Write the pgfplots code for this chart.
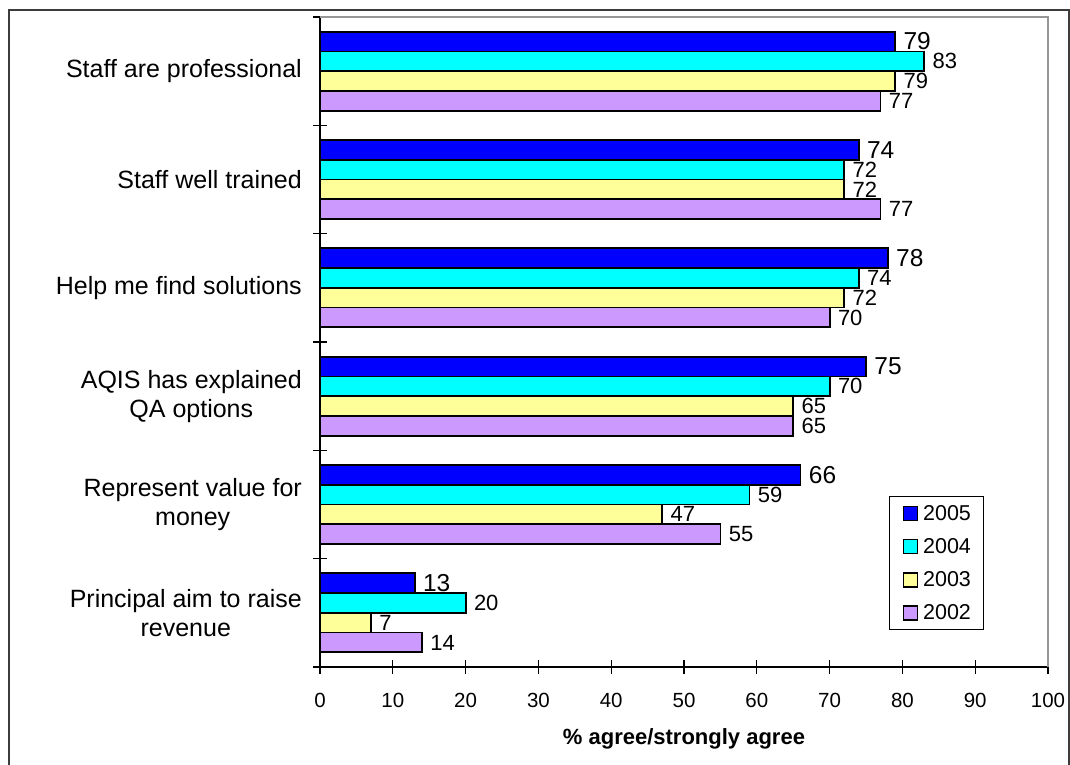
\documentclass[border=0pt]{standalone}
\usepackage{fontspec}
\setmainfont{Liberation Sans}
\usepackage{pgfplots}
\pgfplotsset{compat=1.18}
\usepackage{pgfplotstable}

\definecolor{c2005}{RGB}{0,0,255}
\definecolor{c2004}{RGB}{0,255,255}
\definecolor{c2003}{RGB}{255,255,153}
\definecolor{c2002}{RGB}{204,153,255}
\definecolor{framegray}{RGB}{60,60,60}
\definecolor{boxgray}{RGB}{150,150,150}

% share agreeing / strongly agreeing, by statement (pos 5 = top row)
\pgfplotstableread{
pos y2005 y2004 y2003 y2002
5   79    83    79    77
4   74    72    72    77
3   78    74    72    70
2   75    70    65    65
1   66    59    47    55
0   13    20    7     14
}\survey

\begin{document}
\begin{tikzpicture}
\useasboundingbox (0bp,0bp) rectangle (1070bp,765bp);
\begin{axis}[
  at={(320bp,98bp)}, anchor=south west,
  width=728bp, height=650bp, scale only axis,
  xbar, bar width=19.75bp,
  xmin=0, xmax=100, ymin=-0.5, ymax=5.5,
  xtick={0,10,...,100},
  ytick={-0.5,0.5,...,5.5},
  y tick label as interval,
  yticklabels={{Principal aim to raise\\revenue},{Represent value for\\money},{AQIS has explained\\QA options},{Help me find solutions},{Staff well trained},{Staff are professional}},
  yticklabel style={align=center, font=\fontsize{25bp}{29bp}\selectfont, inner sep=0pt, xshift=-11bp},
  xticklabel style={font=\fontsize{20.5bp}{24bp}\selectfont, inner sep=0pt, anchor=north, yshift=-18.7bp},
  /pgf/number format/assume math mode=true,
  axis lines=left, axis line style={-, line width=1.3bp, black},
  tick align=center, major tick length=14bp,
  tick style={black, line width=1.2bp},
  minor tick num=0,
  clip=false,
  xlabel={\% agree/strongly agree},
  xlabel style={font=\fontsize{22bp}{26bp}\selectfont\bfseries, at={(axis description cs:0.5,0)}, anchor=base, yshift=-78bp},
  every axis plot/.append style={draw=black, line width=1.8bp},
  nodes near coords, point meta=x,
  every node near coord/.append style={anchor=west, inner sep=0pt, xshift=7.5bp, font=\fontsize{22bp}{25bp}\selectfont, text=black},
  legend image code/.code={\draw[#1, line width=1.6bp] (0bp,-7bp) rectangle (14bp,7bp);},
  legend cell align=left,
  legend style={at={(0.7816,0.263)}, anchor=north west, draw=black, line width=1bp,
    inner xsep=13bp, inner ysep=8.5bp, nodes={inner sep=0pt}, row sep=16.8bp, column sep=5bp,
    font=\fontsize{21.5bp}{24bp}\selectfont},
]
\addplot[fill=c2005, bar shift=29.625bp,
  every node near coord/.append style={font=\fontsize{24.5bp}{27bp}\selectfont}]
  table[x=y2005, y=pos] {\survey};
\addlegendentry{2005}
\addplot[fill=c2004, bar shift=9.875bp] table[x=y2004, y=pos] {\survey};
\addlegendentry{2004}
\addplot[fill=c2003, bar shift=-9.875bp] table[x=y2003, y=pos] {\survey};
\addlegendentry{2003}
\addplot[fill=c2002, bar shift=-29.625bp] table[x=y2002, y=pos] {\survey};
\addlegendentry{2002}
\draw[boxgray, line width=2bp] (rel axis cs:0,1) -- (rel axis cs:1,1) -- (rel axis cs:1,0);
\end{axis}
\draw[framegray, line width=1.3bp] (9bp,-20bp) -- (9bp,755bp) -- (1069bp,755bp) -- (1069bp,-20bp);
\end{tikzpicture}
\end{document}
